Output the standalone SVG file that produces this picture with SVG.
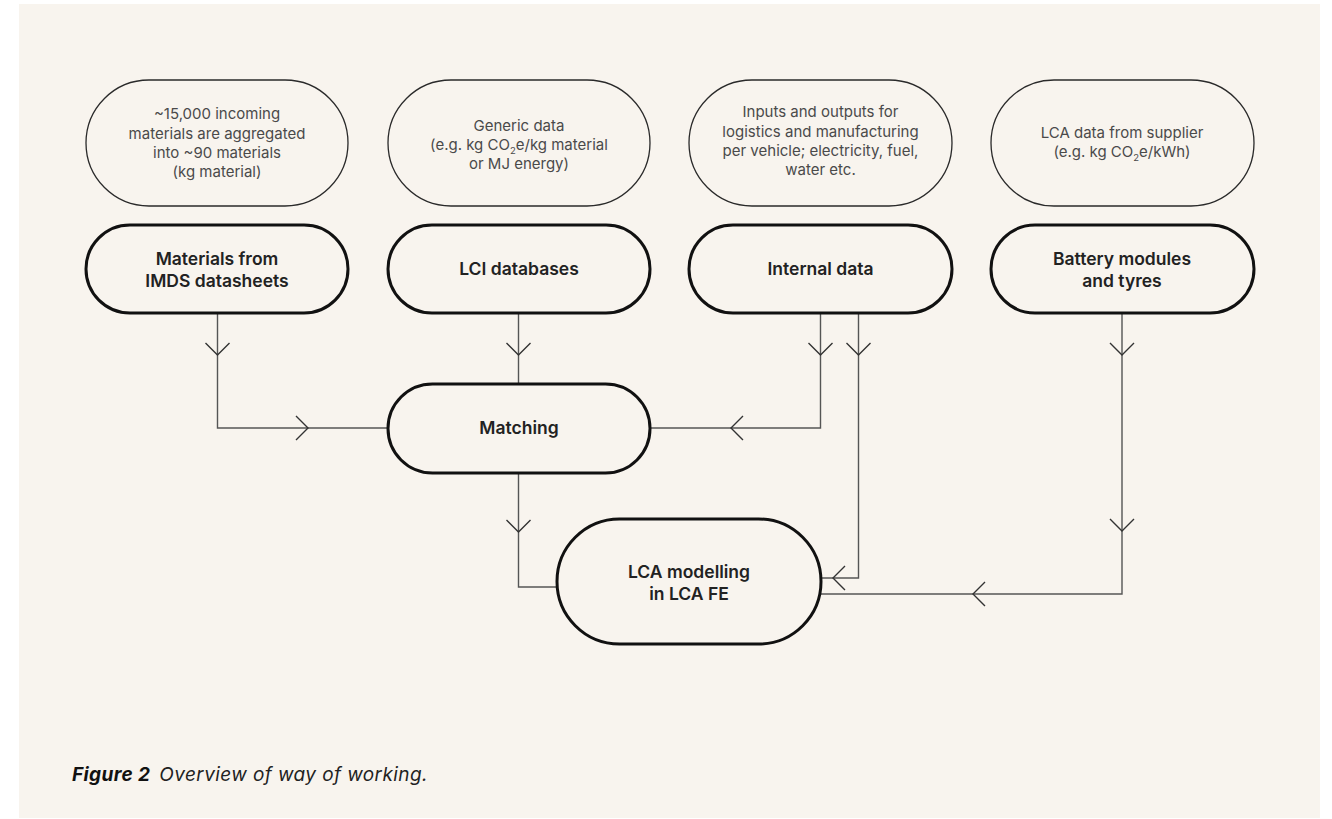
<svg xmlns="http://www.w3.org/2000/svg" xmlns:xlink="http://www.w3.org/1999/xlink" width="1332" height="819" viewBox="0 0 1332 819">
  <defs>
    <style>
      .panel { fill: #f8f4ee; }
      .src { fill: none; stroke: #2a2a2a; stroke-width: 1.3; }
      .box { fill: none; stroke: #111; stroke-width: 3; }
      .conn { fill: none; stroke: #555; stroke-width: 1.4; }
      .chev { fill: none; stroke: #333; stroke-width: 1.4; }
      .note { font-family: Inter, "Liberation Sans", sans-serif; font-size: 15px; fill: #4a4a4a; text-anchor: middle; }
      .label { font-family: Inter, "Liberation Sans", sans-serif; font-size: 17.5px; font-weight: 600; fill: #222; text-anchor: middle; }
      .caption { font-family: Inter, "Liberation Sans", sans-serif; font-size: 19px; font-style: italic; fill: #222; letter-spacing: 0.4px; }
      .sub { font-size: 9.5px; }
    </style>
    <!-- open chevron arrowhead, tip at origin, pointing down -->
    <path id="chev" d="M-12,-12 L0,0 L12,-12"/>
  </defs>

  <rect class="panel" x="19" y="4" width="1301" height="814"/>

  <!-- connectors -->
  <g id="connectors">
    <path class="conn" d="M217.5,313 V428 H388"/>
    <path class="conn" d="M518.5,313 V384"/>
    <path class="conn" d="M820.5,313 V428 H650"/>
    <path class="conn" d="M858.5,313 V578 H821"/>
    <path class="conn" d="M518.5,473 V587 H557"/>
    <path class="conn" d="M1122,313 V594 H820"/>

    <use class="chev" xlink:href="#chev" transform="translate(217.5,355)"/>
    <use class="chev" xlink:href="#chev" transform="translate(308,428) rotate(-90)"/>
    <use class="chev" xlink:href="#chev" transform="translate(518.5,355)"/>
    <use class="chev" xlink:href="#chev" transform="translate(820.5,355)"/>
    <use class="chev" xlink:href="#chev" transform="translate(731,428) rotate(90)"/>
    <use class="chev" xlink:href="#chev" transform="translate(858.5,355)"/>
    <use class="chev" xlink:href="#chev" transform="translate(833,578) rotate(90)"/>
    <use class="chev" xlink:href="#chev" transform="translate(518.5,532)"/>
    <use class="chev" xlink:href="#chev" transform="translate(1122,355)"/>
    <use class="chev" xlink:href="#chev" transform="translate(1122,531)"/>
    <use class="chev" xlink:href="#chev" transform="translate(973,594) rotate(90)"/>
  </g>

  <!-- data description ovals -->
  <g id="note-imds">
    <rect class="src" x="86" y="80" width="262" height="126" rx="63"/>
    <text class="note" x="217" y="119">~15,000 incoming</text>
    <text class="note" x="217" y="139">materials are aggregated</text>
    <text class="note" x="217" y="158">into ~90 materials</text>
    <text class="note" x="217" y="177">(kg material)</text>
  </g>
  <g id="note-lci">
    <rect class="src" x="388" y="80" width="262" height="126" rx="63"/>
    <text class="note" x="519" y="131">Generic data</text>
    <text class="note" x="519" y="150">(e.g. kg CO<tspan class="sub" dy="3.5">2</tspan><tspan dy="-3.5">e/kg material</tspan></text>
    <text class="note" x="519" y="169">or MJ energy)</text>
  </g>
  <g id="note-internal">
    <rect class="src" x="689" y="80" width="263" height="126" rx="63"/>
    <text class="note" x="820.5" y="117">Inputs and outputs for</text>
    <text class="note" x="820.5" y="137">logistics and manufacturing</text>
    <text class="note" x="820.5" y="156">per vehicle; electricity, fuel,</text>
    <text class="note" x="820.5" y="175">water etc.</text>
  </g>
  <g id="note-battery">
    <rect class="src" x="991" y="80" width="263" height="126" rx="63"/>
    <text class="note" x="1122" y="138">LCA data from supplier</text>
    <text class="note" x="1122" y="157">(e.g. kg CO<tspan class="sub" dy="3.5">2</tspan><tspan dy="-3.5">e/kWh)</tspan></text>
  </g>

  <!-- process nodes -->
  <g id="node-imds">
    <rect class="box" x="86" y="225" width="262" height="88" rx="44"/>
    <text class="label" x="217" y="265">Materials from</text>
    <text class="label" x="217" y="287">IMDS datasheets</text>
  </g>
  <g id="node-lci">
    <rect class="box" x="388" y="225" width="262" height="88" rx="44"/>
    <text class="label" x="519" y="275">LCI databases</text>
  </g>
  <g id="node-internal">
    <rect class="box" x="689" y="225" width="263" height="88" rx="44"/>
    <text class="label" x="820.5" y="275">Internal data</text>
  </g>
  <g id="node-battery">
    <rect class="box" x="991" y="225" width="263" height="88" rx="44"/>
    <text class="label" x="1122" y="265">Battery modules</text>
    <text class="label" x="1122" y="287">and tyres</text>
  </g>
  <g id="node-matching">
    <rect class="box" x="388" y="384" width="262" height="89" rx="44.5"/>
    <text class="label" x="519" y="434">Matching</text>
  </g>
  <g id="node-lca">
    <rect class="box" x="557" y="519" width="264" height="125" rx="62.5"/>
    <text class="label" x="689" y="578">LCA modelling</text>
    <text class="label" x="689" y="600">in LCA FE</text>
  </g>

  <!-- caption -->
  <text class="caption" x="72" y="781"><tspan font-weight="700" fill="#111">Figure 2</tspan><tspan dx="9">Overview of way of working.</tspan></text>
</svg>
